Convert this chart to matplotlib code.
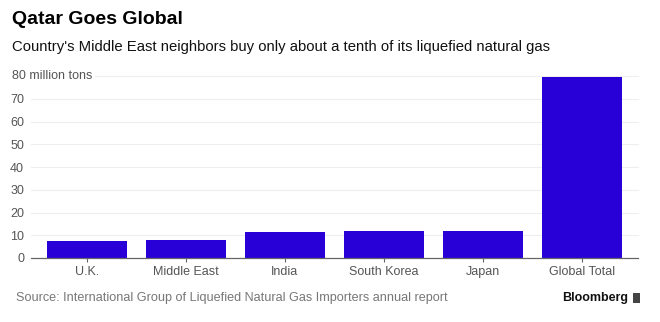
import matplotlib.pyplot as plt
from matplotlib.patches import Rectangle

plt.rcParams['font.family'] = ['Liberation Sans', 'DejaVu Sans']

categorie = ['U.K.', 'Middle East', 'India', 'South Korea', 'Japan', 'Global Total']
valori = [7.3, 7.7, 11.4, 11.7, 12.0, 79.4]
tick_y = [0, 10, 20, 30, 40, 50, 60, 70, 80]

fig = plt.figure(figsize=(6.6, 3.22), dpi=100)
# axes: left 31px, right 638px, bottom y=258px, top (80) y=76px
ax = fig.add_axes([31 / 660, (322 - 258) / 322, (638 - 31) / 660, (258 - 76) / 322])

x = range(len(categorie))
ax.bar(x, valori, width=0.81, color='#2800d7', zorder=3)

ax.set_xlim(-0.563, 5.569)
ax.set_ylim(0, 80)
ax.set_yticks(tick_y)
ax.set_yticklabels([str(t) if t != 80 else '' for t in tick_y])
ax.set_xticks(list(x))
ax.set_xticklabels(categorie)

for t in tick_y[1:]:
    ax.axhline(t, color='#eeeeee', linewidth=0.8, zorder=1, clip_on=False)

for s in ['top', 'right', 'left']:
    ax.spines[s].set_visible(False)
ax.spines['bottom'].set_color('#666666')
ax.spines['bottom'].set_linewidth(0.9)
ax.spines['bottom'].set_zorder(4)

ax.tick_params(axis='y', length=0, pad=5, labelsize=9, labelcolor='#555555')
ax.tick_params(axis='x', length=3, color='#666666', pad=3, labelsize=9, labelcolor='#555555')

# etichetta unita di misura sulla linea degli 80
ax.text(-0.563 - 19 / 99, 80, '80 million tons', ha='left', va='center', fontsize=9,
        color='#555555', zorder=5,
        bbox=dict(facecolor='white', edgecolor='none', pad=1.5))

fig.text(12 / 660, 1 - 20 / 322, 'Qatar Goes Global', fontsize=14, fontweight='bold',
         color='#000000', ha='left', va='center')
fig.text(12 / 660, 1 - 47 / 322,
         "Country's Middle East neighbors buy only about a tenth of its liquefied natural gas",
         fontsize=10.75, color='#111111', ha='left', va='center')
fig.text(16 / 660, 1 - 298 / 322,
         'Source: International Group of Liquefied Natural Gas Importers annual report',
         fontsize=9.1, color='#777777', ha='left', va='center')
fig.text(628 / 660, 1 - 298 / 322, 'Bloomberg', fontsize=9, fontweight='bold',
         color='#111111', ha='right', va='center')
fig.patches.append(Rectangle((633 / 660, 1 - 303 / 322), 7 / 660, 10 / 322,
                             transform=fig.transFigure, facecolor='#444444',
                             edgecolor='none'))

fig.savefig('out.png', dpi=100)
